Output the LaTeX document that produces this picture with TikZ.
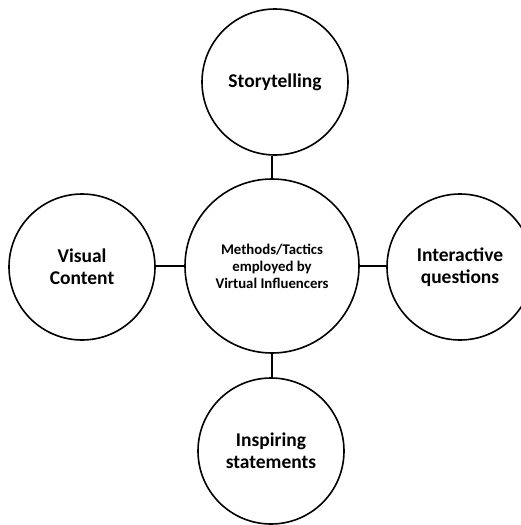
\documentclass[tikz,border=0pt]{standalone}
\usepackage{fontspec}
\setmainfont{Carlito}
\usepackage{tikz}
\usetikzlibrary{positioning, calc}
\tikzset{
    tactic/.style={circle, draw=black, line width=1.6pt, minimum size=146pt,
        inner sep=0pt, align=center, font=\bfseries\fontsize{19.5}{22}\selectfont},
    hub/.style={tactic, minimum size=174pt, font=\bfseries\fontsize{14.8}{17}\selectfont},
    link/.style={draw=black, line width=1.6pt}
}
\begin{document}
\begin{tikzpicture}[x=1pt, y=-1pt]
    \useasboundingbox (0,0) rectangle (521,525);

    % centre and the four tactics
    \node[hub] (methods) at (272,266) {Methods/Tactics\\employed by\\Virtual Influencers};
    \node[tactic] (story) at (275,82) {Storytelling};
    \node[tactic] (visual) at (82,267) {Visual\\Content};
    \node[tactic] (interact) at (460,267) {Interactive\\questions};
    \node[tactic] (inspire) at (271,451) {Inspiring\\statements};

    % connectors, kept straight
    \draw[link] (methods.north) -- (methods.north |- story.south);
    \draw[link] (methods.south) -- (methods.south |- inspire.north);
    \draw[link] (methods.west) -- (methods.west -| visual.east);
    \draw[link] (methods.east) -- (methods.east -| interact.west);
\end{tikzpicture}
\end{document}
